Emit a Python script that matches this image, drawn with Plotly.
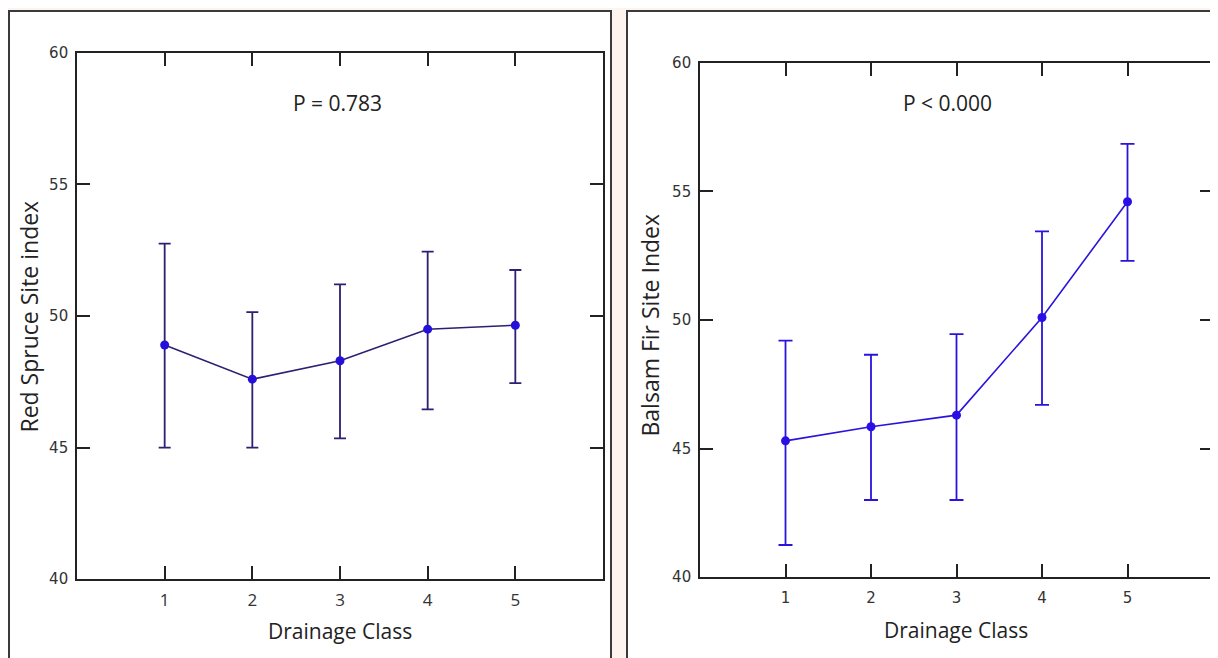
import plotly.graph_objects as go

W, H = 1218, 658

drainage_class = [1, 2, 3, 4, 5]

# Red Spruce site index (left panel)
rs_mean = [48.9, 47.6, 48.3, 49.5, 49.65]
rs_upper = [52.75, 50.15, 51.2, 52.45, 51.75]
rs_lower = [45.0, 45.0, 45.35, 46.45, 47.45]

# Balsam Fir site index (right panel)
bf_mean = [45.3, 45.85, 46.3, 50.1, 54.6]
bf_upper = [49.2, 48.65, 49.45, 53.45, 56.85]
bf_lower = [41.25, 43.0, 43.0, 46.7, 52.3]

y_ticks = [40, 45, 50, 55, 60]
x_ticks = [1, 2, 3, 4, 5]

# empirical mapping of page pixels to paper fractions
X_OFF, Y_OFF, H_EFF = 8, 16, 641

def px_x(x):
    return (x - X_OFF) / W

def px_y(y):
    return 1 - (y - Y_OFF) / H_EFF

fig = go.Figure()

def add_series(mean, upper, lower, xa, ya, line_color, marker_color, cap):
    fig.add_trace(go.Scatter(
        x=drainage_class, y=mean, xaxis=xa, yaxis=ya,
        mode="lines+markers",
        line=dict(color=line_color, width=1.6),
        marker=dict(color=marker_color, size=9, symbol="circle"),
        error_y=dict(
            type="data", symmetric=False,
            array=[u - m for u, m in zip(upper, mean)],
            arrayminus=[m - l for m, l in zip(mean, lower)],
            color=line_color, thickness=1.8, width=cap,
        ),
        showlegend=False,
    ))

add_series(rs_mean, rs_upper, rs_lower, "x", "y", "#2e1f72", "#2410d8", 6)
add_series(bf_mean, bf_upper, bf_lower, "x2", "y2", "#2a14dc", "#2a0ee6", 7)

axis_common = dict(
    showgrid=False, zeroline=False, showline=True, linecolor="#222222",
    linewidth=1.6, mirror="ticks", ticks="inside", ticklen=13,
    tickcolor="#222222", tickwidth=1.6,
)

fig.update_layout(
    width=W, height=H,
    margin=dict(l=0, r=0, t=0, b=0),
    paper_bgcolor="#fdf4ef",
    plot_bgcolor="white",
    xaxis=dict(domain=[px_x(77), px_x(603)], range=[0, 6], tickvals=x_ticks,
               anchor="y", tickfont=dict(family="Open Sans", size=17, color="#333333"),
               ticklabelstandoff=5, **axis_common),
    yaxis=dict(domain=[px_y(579), px_y(52)], range=[40, 60], tickvals=y_ticks,
               anchor="x", tickfont=dict(family="DejaVu Sans", size=15, color="#333333"),
               ticklabelstandoff=4, **axis_common),
    xaxis2=dict(domain=[px_x(700), px_x(1213)], range=[0, 6], tickvals=x_ticks,
                anchor="y2", tickfont=dict(family="DejaVu Sans", size=15, color="#333333"),
                ticklabelstandoff=6, **axis_common),
    yaxis2=dict(domain=[px_y(577), px_y(62)], range=[40, 60], tickvals=y_ticks,
                anchor="x2", tickfont=dict(family="DejaVu Sans", size=15, color="#333333"),
                ticklabelstandoff=4, **axis_common),
)

# panel backgrounds
fig.add_shape(type="rect", xref="paper", yref="paper",
              x0=px_x(9), x1=px_x(611), y0=-0.05, y1=px_y(10),
              fillcolor="white", line=dict(color="#3a3a3a", width=2), layer="below")
fig.add_shape(type="rect", xref="paper", yref="paper",
              x0=px_x(627), x1=1.05, y0=-0.05, y1=px_y(10),
              fillcolor="white", line=dict(color="#3a3a3a", width=2), layer="below")

txt_font = dict(family="Open Sans", size=21, color="#222222")
ann = [
    dict(text="P = 0.783", x=px_x(337), y=px_y(102)),
    dict(text="P < 0.000", x=px_x(948), y=px_y(102)),
    dict(text="Drainage Class", x=px_x(340), y=px_y(631)),
    dict(text="Drainage Class", x=px_x(956), y=px_y(630)),
]
for a in ann:
    fig.add_annotation(xref="paper", yref="paper", showarrow=False,
                       xanchor="center", yanchor="middle", font=txt_font, **a)

ytitle_font = dict(family="Open Sans", size=23, color="#222222")
fig.add_annotation(text="Red Spruce Site index", xref="paper", yref="paper",
                   x=px_x(29), y=px_y(316), textangle=-90, showarrow=False,
                   xanchor="center", yanchor="middle", font=ytitle_font)
fig.add_annotation(text="Balsam Fir Site Index", xref="paper", yref="paper",
                   x=px_x(650), y=px_y(325), textangle=-90, showarrow=False,
                   xanchor="center", yanchor="middle", font=ytitle_font)

fig.write_html("out.html")
